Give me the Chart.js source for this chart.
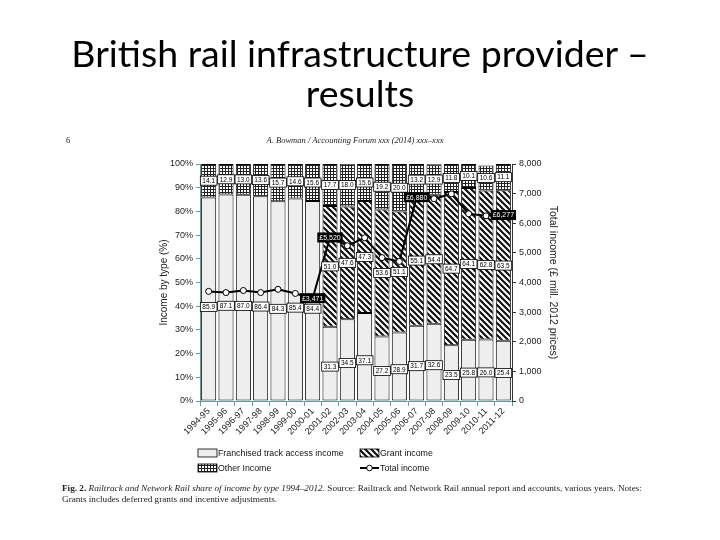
<!DOCTYPE html>
<html>
<head>
<meta charset="utf-8">
<script src="https://cdn.jsdelivr.net/npm/chart.js@4.4.1/dist/chart.umd.min.js"></script>
<style>
  body { margin: 0; width: 720px; height: 540px; background: #fff; position: relative; overflow: hidden; }
  #wrap { position: absolute; left: 0; top: 0; width: 720px; height: 540px; }
  .title { position: absolute; left: 0; width: 720px; text-align: center; font-family: Lato, sans-serif; font-size: 37.5px; color: #000; }
  .small { position: absolute; font-family: "Liberation Serif", serif; font-size: 8.5px; color: #222; white-space: nowrap; }
</style>
</head>
<body>
<div id="wrap"><canvas id="c" width="720" height="540"></canvas></div>
<div class="title" style="top:33px; line-height:40px;">British rail infrastructure provider –<br>results</div>
<div class="small" style="left:66px; top:135px;">6</div>
<div class="small" style="left:0; width:710px; text-align:center; top:135px; font-style:italic;">A. Bowman / Accounting Forum xxx (2014) xxx–xxx</div>
<div class="small" style="left:62px; top:483px; font-size:9.2px;"><b>Fig. 2.</b> <i>Railtrack and Network Rail share of income by type 1994–2012.</i> Source: Railtrack and Network Rail annual report and accounts, various years. Notes:</div>
<div class="small" style="left:62px; top:494px; font-size:9.2px;">Grants includes deferred grants and incentive adjustments.</div>
<script>
const years = ['1994-95', '1995-96', '1996-97', '1997-98', '1998-99', '1999-00', '2000-01', '2001-02', '2002-03',
  '2003-04', '2004-05', '2005-06', '2006-07', '2007-08', '2008-09', '2009-10', '2010-11', '2011-12'];

// shares in %
const franchised = [85.9, 87.1, 87.0, 86.4, 84.3, 85.4, 84.4, 31.3, 34.5, 37.1, 27.2, 28.9, 31.7, 32.6, 23.5, 25.8, 26.0, 25.4];
const grant = [null, null, null, null, null, null, null, 51.0, 47.6, 47.3, 53.6, 51.1, 55.1, 54.4, 64.7, 64.1, 62.8, 63.5];
const other = [14.1, 12.9, 13.0, 13.6, 15.7, 14.6, 15.6, 17.7, 18.0, 15.6, 19.2, 20.0, 13.2, 12.9, 11.8, 10.1, 10.6, 11.1];

// total income, £ mill. 2012 prices
const totalIncome = [3700, 3660, 3730, 3660, 3770, 3630, 3471, 5520, 5240, 5510, 4840, 4710, 6880, 6830, 6990, 6320, 6250, 6277];
const labelledYears = ['2000-01', '2001-02', '2006-07', '2011-12'];

const pctTickStep = 10;
const incomeTickStep = 1000;

const font = 'Liberation Sans';
const axisTeal = '#5f9e9e';

function stripes() {
  const c = document.createElement('canvas');
  c.width = 6; c.height = 6;
  const g = c.getContext('2d');
  g.fillStyle = '#fff';
  g.fillRect(0, 0, 6, 6);
  g.strokeStyle = '#111';
  g.lineWidth = 2.2;
  g.beginPath();
  for (let k = -1; k <= 1; k++) {
    g.moveTo(-2, -2 + 6 * k);
    g.lineTo(8, 8 + 6 * k);
  }
  g.stroke();
  return g.createPattern(c, 'repeat');
}

function grid() {
  const c = document.createElement('canvas');
  c.width = 3; c.height = 3;
  const g = c.getContext('2d');
  g.fillStyle = '#fff';
  g.fillRect(0, 0, 3, 3);
  g.fillStyle = '#222';
  g.fillRect(0, 0, 3, 1);
  g.fillRect(0, 0, 1, 3);
  return g.createPattern(c, 'repeat');
}

const ctx = document.getElementById('c').getContext('2d');
const stripeFill = stripes();
const gridFill = grid();

const valueBoxes = {
  id: 'valueBoxes',
  afterDatasetsDraw(chart) {
    const g = chart.ctx;
    g.save();
    g.font = '6.5px "' + font + '"';
    g.textAlign = 'center';
    g.textBaseline = 'middle';
    [0, 1, 2].forEach(di => {
      chart.getDatasetMeta(di).data.forEach((bar, i) => {
        const v = chart.data.datasets[di].data[i];
        if (v == null) return;
        const y = bar.base + (bar.y - bar.base) * (di === 0 ? 0.46 : 0.5);
        const txt = v.toFixed(1);
        const w = g.measureText(txt).width + 4, h = 9;
        g.fillStyle = '#fff';
        g.fillRect(bar.x - w / 2, y - h / 2, w, h);
        g.strokeStyle = '#000';
        g.lineWidth = 0.8;
        g.strokeRect(bar.x - w / 2, y - h / 2, w, h);
        g.fillStyle = '#000';
        g.fillText(txt, bar.x, y + 0.5);
      });
    });
    g.font = '7px "' + font + '"';
    chart.getDatasetMeta(3).data.forEach((pt, i) => {
      if (!labelledYears.includes(years[i])) return;
      const txt = '£' + totalIncome[i].toLocaleString('en-US');
      const w = g.measureText(txt).width + 4, h = 10;
      g.fillStyle = '#000';
      g.fillRect(pt.x - w / 2, pt.y - h / 2, w, h);
      g.fillStyle = '#fff';
      g.fillText(txt, pt.x, pt.y + 0.5);
    });
    g.restore();
  }
};

const legendBox = {
  id: 'legendBox',
  afterDraw(chart) {
    const g = chart.ctx;
    g.save();
    g.font = '8.8px "' + font + '"';
    g.textBaseline = 'middle';
    const items = [
      { x: 198, y: 453, text: 'Franchised track access income', fill: '#eeeeee' },
      { x: 360, y: 453, text: 'Grant income', fill: stripeFill },
      { x: 198, y: 468, text: 'Other Income', fill: gridFill },
      { x: 360, y: 468, text: 'Total income', line: true }
    ];
    items.forEach(it => {
      if (it.line) {
        g.strokeStyle = '#000';
        g.lineWidth = 2;
        g.beginPath();
        g.moveTo(it.x, it.y);
        g.lineTo(it.x + 19, it.y);
        g.stroke();
        g.fillStyle = '#fff';
        g.lineWidth = 1;
        g.beginPath();
        g.arc(it.x + 9.5, it.y, 2.8, 0, Math.PI * 2);
        g.fill();
        g.stroke();
      } else {
        g.fillStyle = it.fill;
        g.fillRect(it.x, it.y - 4, 19, 8);
        g.strokeStyle = '#000';
        g.lineWidth = 0.8;
        g.strokeRect(it.x, it.y - 4, 19, 8);
      }
      g.fillStyle = '#111';
      g.fillText(it.text, it.x + 20, it.y + 0.5);
    });
    g.restore();
  }
};

const barCommon = {
  type: 'bar',
  yAxisID: 'y',
  borderColor: '#000',
  borderWidth: 1,
  borderSkipped: false,
  barPercentage: 0.87,
  categoryPercentage: 1.0,
  order: 1
};

new Chart(ctx, {
  data: {
    labels: years,
    datasets: [
      { ...barCommon, label: 'Franchised track access income', data: franchised, backgroundColor: '#eeeeee' },
      { ...barCommon, label: 'Grant income', data: grant, backgroundColor: stripeFill },
      { ...barCommon, label: 'Other Income', data: other, backgroundColor: gridFill },
      {
        type: 'line',
        label: 'Total income',
        data: totalIncome,
        yAxisID: 'y1',
        borderColor: '#000',
        borderWidth: 2,
        pointRadius: 3,
        pointBackgroundColor: '#fff',
        pointBorderColor: '#000',
        pointBorderWidth: 1,
        tension: 0,
        order: 0
      }
    ]
  },
  options: {
    responsive: false,
    animation: false,
    layout: { padding: { left: 150, right: 158, top: 164, bottom: 94 } },
    plugins: { legend: { display: false }, tooltip: { enabled: false } },
    scales: {
      x: {
        stacked: true,
        grid: { offset: true, drawOnChartArea: false, tickLength: 5, color: axisTeal },
        border: { color: axisTeal },
        ticks: { autoSkip: false, minRotation: 45, maxRotation: 45, padding: 0, color: '#222', font: { family: font, size: 9 } },
        afterFit(s) { s.height = 45; }
      },
      y: {
        stacked: true,
        min: 0,
        max: 100,
        grid: { drawOnChartArea: false, tickLength: 4, color: axisTeal },
        border: { color: axisTeal },
        ticks: { stepSize: pctTickStep, callback: v => v + '%', color: '#222', font: { family: font, size: 9 } },
        title: { display: true, text: 'Income by type (%)', color: '#222', font: { family: font, size: 10 }, padding: { top: 8, bottom: 0 } },
        afterFit(s) { s.width = 50; }
      },
      y1: {
        position: 'right',
        min: 0,
        max: 8000,
        grid: { drawOnChartArea: false, tickLength: 4, color: '#333' },
        border: { color: '#333' },
        ticks: { stepSize: incomeTickStep, callback: v => v.toLocaleString('en-US'), color: '#222', font: { family: font, size: 9 } },
        title: { display: true, text: 'Total income (£ mill. 2012 prices)', color: '#222', font: { family: font, size: 10.5 }, padding: { top: 3, bottom: 0 } },
        afterFit(s) { s.width = 50; }
      }
    }
  },
  plugins: [valueBoxes, legendBox]
});
</script>
</body>
</html>
